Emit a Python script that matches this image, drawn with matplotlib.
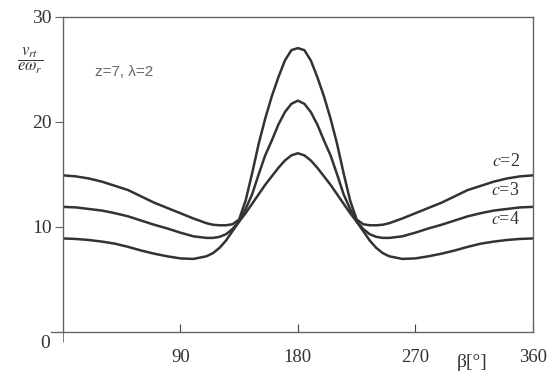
import matplotlib
matplotlib.use("Agg")
import matplotlib.pyplot as plt

plt.rcParams['font.family'] = ['Liberation Serif', 'DejaVu Serif']
plt.rcParams['mathtext.fontset'] = 'stix'

# beta angle in degrees
beta = [0, 10, 20, 30, 40, 50, 60, 70, 80, 90, 100, 110, 115, 120, 125, 130,
        135, 140, 145, 150, 155, 160, 165, 170, 175, 180,
        185, 190, 195, 200, 205, 210, 215, 220, 225, 230, 235, 240, 245, 250,
        260, 270, 280, 290, 300, 310, 320, 330, 340, 350, 360]

# relative speed v_rt / (e w_r)
c2 = [14.9, 14.8, 14.6, 14.3, 13.9, 13.5, 12.9, 12.3, 11.8, 11.3, 10.8, 10.35, 10.2, 10.15, 10.15, 10.25,
      10.7, 12.5, 15.1, 17.9, 20.3, 22.4, 24.2, 25.8, 26.8, 27.0,
      26.8, 25.8, 24.2, 22.4, 20.3, 17.9, 15.1, 12.5, 10.7, 10.25, 10.15, 10.15, 10.2, 10.35,
      10.8, 11.3, 11.8, 12.3, 12.9, 13.5, 13.9, 14.3, 14.6, 14.8, 14.9]
c3 = [11.9, 11.85, 11.7, 11.55, 11.3, 11.0, 10.6, 10.2, 9.85, 9.45, 9.1, 8.95, 8.95, 9.05, 9.3, 9.8,
      10.5, 11.7, 13.1, 15.0, 16.8, 18.2, 19.7, 20.9, 21.7, 22.0,
      21.7, 20.9, 19.7, 18.2, 16.8, 15.0, 13.1, 11.7, 10.5, 9.8, 9.3, 9.05, 8.95, 8.95,
      9.1, 9.45, 9.85, 10.2, 10.6, 11.0, 11.3, 11.55, 11.7, 11.85, 11.9]
c4 = [8.9, 8.85, 8.75, 8.6, 8.4, 8.1, 7.75, 7.45, 7.2, 7.0, 6.95, 7.2, 7.5, 8.0, 8.7, 9.6,
      10.5, 11.3, 12.2, 13.1, 14.0, 14.8, 15.6, 16.3, 16.8, 17.0,
      16.8, 16.3, 15.6, 14.8, 14.0, 13.1, 12.2, 11.3, 10.5, 9.6, 8.7, 8.0, 7.5, 7.2,
      6.95, 7.0, 7.2, 7.45, 7.75, 8.1, 8.4, 8.6, 8.75, 8.85, 8.9]

series = [c2, c3, c4]
labels = ['2', '3', '4']
label_y = [16.2, 13.5, 10.7]

fig = plt.figure(figsize=(5.53, 3.76), dpi=100)
ax = fig.add_axes([0.1134, 0.117, 0.8505, 0.839])

for vals in series:
    ax.plot(beta, vals, color='#333333', lw=1.8)

for lab, yy in zip(labels, label_y):
    ax.text(339, yy, r'$c$=' + lab, fontsize=13, color='#333333',
            ha='center', va='center')

ax.text(25, 24.7, 'z=7, λ=2', fontsize=11, color='#666666', va='center',
        family=['Liberation Sans', 'DejaVu Sans'])

ax.set_xlim(0, 360)
ax.set_ylim(0, 30)
ax.set_xticks([90, 180, 270, 360])
ax.set_xticks([0], minor=True)
ax.set_yticks([10, 20, 30])
ax.tick_params(axis='x', which='major', direction='in', length=6, pad=12,
               labelsize=13.5, colors='#444444', labelcolor='#333333')
ax.tick_params(axis='x', which='minor', direction='out', length=7, colors='#666666')
ax.tick_params(axis='y', direction='out', length=6, pad=2, labelsize=14,
               colors='#666666', labelcolor='#333333')
ax.get_xticklabels()[-1].set_x(354)
ax.text(-0.026, -0.035, '0', transform=ax.transAxes, ha='right', va='center',
        fontsize=14, color='#333333')
ax.plot([-0.025, 0], [0, 0], transform=ax.transAxes, color='#666666', lw=1,
        clip_on=False)

for s in ax.spines.values():
    s.set_color('#666666')
    s.set_linewidth(1.0)

fig.text(30 / 553, 1 - 61 / 376, r'$\dfrac{v_{rt}}{e\omega_r}$', fontsize=12,
         ha='center', va='center', color='#333333')
ax.text(313, -2.9, 'β[°]', fontsize=14, ha='center', va='center',
        color='#333333', clip_on=False)

fig.savefig('out.png', dpi=100)
